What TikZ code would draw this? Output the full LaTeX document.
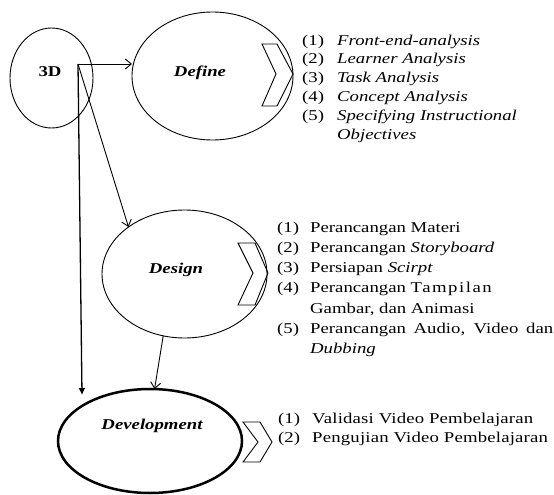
\documentclass[tikz,border=0pt]{standalone}
\usepackage{fontspec}
\usepackage{graphicx}
\setmainfont{Liberation Serif}
\usetikzlibrary{shapes.geometric,arrows.meta}
% the printed text is set wide: stretch it horizontally
\newcommand{\widetext}[1]{\scalebox{1.25}[1]{#1}}
\begin{document}
\begin{tikzpicture}[x=1pt,y=-1pt,
  phase/.style={ellipse, inner sep=0pt, outer sep=0pt},
  rim/.style={line width=0.9pt},
  title/.style={anchor=base, inner sep=0pt, font=\fontsize{15}{18}\selectfont\bfseries\itshape},
  chev/.style={draw, line width=0.9pt, line join=miter},
  flow/.style={line width=0.9pt, -{Straight Barb[length=6pt,width=10pt]}},
  steps/.style={anchor=north west, inner sep=0pt}]
\useasboundingbox (0,0) rectangle (554,495);

% phases: named ellipse nodes give the anchors, their rims are drawn explicitly
\node[phase, minimum width=83pt, minimum height=100pt] (threeD) at (51.5,78) {};
\node[phase, minimum width=161pt, minimum height=128pt] (define) at (212.5,76) {};
\node[phase, minimum width=165pt, minimum height=128pt] (design) at (184.5,274) {};
\node[phase, minimum width=184pt, minimum height=104pt] (dev) at (150,441) {};
\draw[rim] (threeD.center) ellipse [x radius=41.5, y radius=50];
\draw[rim] (define.center) ellipse [x radius=80.5, y radius=64];
\draw[rim] (design.center) ellipse [x radius=82.5, y radius=64];
\draw[rim, line width=2.5pt] (dev.center) ellipse [x radius=92, y radius=52];

\node[title, font=\fontsize{15}{18}\selectfont\bfseries] (threeDlbl) at (50,77) {\widetext{3D}};
\node[title] (definelbl) at (200,77) {\widetext{Define}};
\node[title] (designlbl) at (176,273) {\widetext{Design}};
\node[title] (devlbl) at (152,429) {\widetext{Development}};

% chevrons
\draw[chev] (262,44) -- (277,44) -- (293,74) -- (277,106) -- (262,106) -- (276,74) -- cycle;
\draw[chev] (238,243) -- (255,243) -- (268,273) -- (255,305) -- (238,305) -- (253,273) -- cycle;
\draw[chev] (243,422) -- (260,422) -- (272,442) -- (260,462) -- (243,462) -- (258,442) -- cycle;

% connectors
\coordinate (hub) at (78,64);
\coordinate (devtip) at (82,395);
\draw[flow] (hub) -- (hub -| define.west);
\draw[flow] (hub) -- (design.140);
\draw[line width=1.3pt, -{Latex[length=7pt,width=7pt]}] (hub) -- (devtip);
\draw[flow] (design.251) -- (dev.85);

% step lists
\node[steps, font=\fontsize{15}{18.8}\selectfont] (definelist) at (302,31.8) {\widetext{%
\begin{tabular}{@{}l@{}}
\makebox[28pt][l]{(1)}\textit{Front-end-analysis}\\
\makebox[28pt][l]{(2)}\textit{Learner Analysis}\\
\makebox[28pt][l]{(3)}\textit{Task Analysis}\\
\makebox[28pt][l]{(4)}\textit{Concept Analysis}\\
\makebox[28pt][l]{(5)}\textit{Specifying Instructional}\\
\hspace*{28pt}\textit{Objectives}
\end{tabular}}};

\node[steps, font=\fontsize{15}{20.2}\selectfont] (designlist) at (277,217.9) {\widetext{%
\begin{tabular}{@{}l@{}}
\makebox[26.4pt][l]{(1)}Perancangan Materi\\
\makebox[26.4pt][l]{(2)}Perancangan \textit{Storyboard}\\
\makebox[26.4pt][l]{(3)}Persiapan \textit{Scirpt}\\
\makebox[26.4pt][l]{(4)}Perancangan {\addfontfeature{LetterSpace=8}Tampilan}\\
\hspace*{26.4pt}Gambar, dan Animasi\\
\makebox[26.4pt][l]{(5)}\makebox[194.4pt][s]{Perancangan Audio, Video dan}\\
\hspace*{26.4pt}\textit{Dubbing}
\end{tabular}}};

\node[steps, font=\fontsize{15}{19.5}\selectfont] (devlist) at (278,409.4) {\widetext{%
\begin{tabular}{@{}l@{}}
\makebox[27.2pt][l]{(1)}{\addfontfeature{LetterSpace=1}Validasi Video Pembelajaran}\\
\makebox[27.2pt][l]{(2)}{\addfontfeature{LetterSpace=1}Pengujian Video Pembelajaran}
\end{tabular}}};
\end{tikzpicture}
\end{document}
